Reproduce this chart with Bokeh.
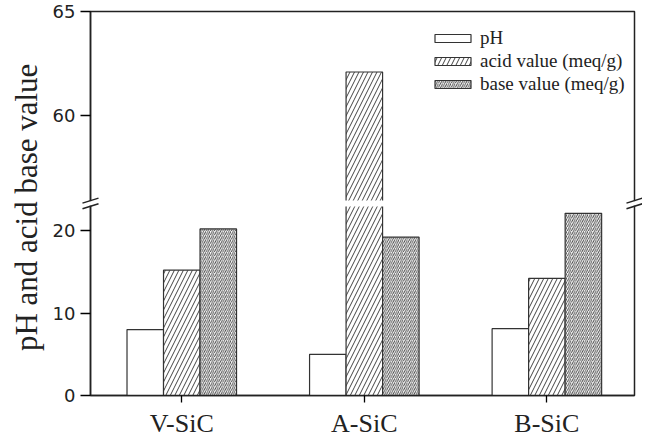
import numpy as np
from bokeh.plotting import figure
from bokeh.models import ColumnDataSource, FixedTicker, Range1d, Legend, LegendItem
from bokeh.embed import file_html
from bokeh.resources import INLINE

# ---- data ----
categories = ["V-SiC", "A-SiC", "B-SiC"]
ph_values = [8.0, 5.0, 8.1]
acid_values = [15.2, 62.1, 14.2]
base_values = [20.2, 19.2, 22.1]
series_labels = ["pH", "acid value (meq/g)", "base value (meq/g)"]
y_tick_values = [0, 10, 20, 60, 65]
axis_title = "pH and acid  base value"

# ---- broken axis transform ----
LOW_END = 23.3     # top of lower segment (data units)
HIGH_START = 55.8  # bottom of upper segment (data units)
K = 21.0 / 8.3     # upper segment px/unit relative to lower segment
Y_MAX = 65

def T(v):
    v = float(v)
    if v <= LOW_END:
        return v
    return LOW_END + (v - HIGH_START) * K

idx = np.arange(1, len(categories) + 1, dtype=float)
BW = 0.2

def src(vals, off):
    return ColumnDataSource(dict(x=list(idx + off), top=[T(v) for v in vals], val=list(vals)))

p = figure(width=642, height=440, output_backend="svg", toolbar_location=None,
           x_range=Range1d(0.5, 3.48), y_range=Range1d(0, T(Y_MAX)),
           min_border_left=90, min_border_right=8, min_border_top=11, min_border_bottom=42)
p.extra_x_ranges = {"frame": Range1d(0, 1)}

p.xgrid.visible = False
p.ygrid.visible = False
p.background_fill_color = "white"
p.border_fill_color = "white"
p.outline_line_color = "#222222"
p.outline_line_width = 1.5

line_col = "#333333"
r_ph = p.vbar(x="x", top="top", bottom=0, width=BW, source=src(ph_values, -BW),
              fill_color="white", line_color=line_col, line_width=1.2)
r_acid = p.vbar(x="x", top="top", bottom=0, width=BW, source=src(acid_values, 0.0),
                fill_color="white", line_color=line_col, line_width=1.2,
                hatch_pattern="/", hatch_scale=9, hatch_weight=1.0, hatch_color="#444444")
r_base = p.vbar(x="x", top="top", bottom=0, width=BW, source=src(base_values, BW),
                fill_color="white", line_color=line_col, line_width=1.2,
                hatch_pattern="/", hatch_scale=4.2, hatch_weight=0.9, hatch_color="#444444")

# white gap across bars that cross the break
px_unit = 8.3
gap_half = 3.0 / px_unit
brk = LOW_END
cross_x = [x for x, v in zip(idx, acid_values) if v > LOW_END]
for cx in cross_x:
    p.quad(left=cx - BW / 2 - 0.01, right=cx + BW / 2 + 0.01, bottom=brk - gap_half, top=brk + gap_half,
           fill_color="white", line_color=None, level="overlay")

# break marks on left and right axes
dx = 8.0 / 543.5
dy = 2.5 / px_unit
sep = 2.8 / px_unit
for ex in [0.0, 1.0]:
    p.quad(left=ex - 0.004, right=ex + 0.004, bottom=brk - sep + dy * 0.2, top=brk + sep - dy * 0.2,
           fill_color="white", line_color=None, x_range_name="frame", level="overlay")
    p.segment(x0=[ex - dx, ex - dx], y0=[brk - sep - dy, brk + sep - dy],
              x1=[ex + dx, ex + dx], y1=[brk - sep + dy, brk + sep + dy],
              line_color="#222222", line_width=1.5, x_range_name="frame", level="overlay")

# axes
ticks = [T(v) for v in y_tick_values]
p.yaxis.ticker = FixedTicker(ticks=ticks)
p.yaxis.major_label_overrides = {t: str(v) for t, v in zip(ticks, y_tick_values)}
p.yaxis.minor_tick_line_color = None
p.yaxis.major_tick_in = 0
p.yaxis.major_tick_out = 10
p.yaxis.major_tick_line_width = 1.3
p.yaxis.axis_line_width = 1.5
p.yaxis.axis_line_color = "#222222"
p.yaxis.major_label_text_font = "DejaVu Sans"
p.yaxis.major_label_text_font_size = "18px"
p.yaxis.major_label_text_color = "#222222"
p.yaxis.major_label_standoff = 5
p.yaxis.axis_label = axis_title
p.yaxis.axis_label_text_font = "Liberation Serif"
p.yaxis.axis_label_text_font_style = "normal"
p.yaxis.axis_label_text_font_size = "31px"
p.yaxis.axis_label_text_color = "#222222"
p.yaxis.axis_label_standoff = 6

p.xaxis.ticker = FixedTicker(ticks=list(idx))
p.xaxis.major_label_overrides = {float(i): c for i, c in zip(idx, categories)}
p.xaxis.minor_tick_line_color = None
p.xaxis.major_tick_in = 0
p.xaxis.major_tick_out = 7
p.xaxis.major_tick_line_width = 1.3
p.xaxis.axis_line_width = 1.5
p.xaxis.axis_line_color = "#222222"
p.xaxis.major_label_text_font = "Liberation Serif"
p.xaxis.major_label_text_font_size = "26px"
p.xaxis.major_label_text_color = "#222222"
p.xaxis.major_label_standoff = 6

legend = Legend(items=[LegendItem(label=series_labels[0], renderers=[r_ph]),
                       LegendItem(label=series_labels[1], renderers=[r_acid]),
                       LegendItem(label=series_labels[2], renderers=[r_base])],
                location=(340, 300))
legend.border_line_color = None
legend.background_fill_alpha = 0
legend.padding = 0
legend.spacing = 1
legend.glyph_width = 45
legend.glyph_height = 10
legend.label_height = 21
legend.label_standoff = 5
legend.label_text_font = "Liberation Serif"
legend.label_text_font_size = "19px"
legend.label_text_color = "#222222"
p.add_layout(legend, "center")

open("out.html", "w").write(file_html(p, INLINE))
